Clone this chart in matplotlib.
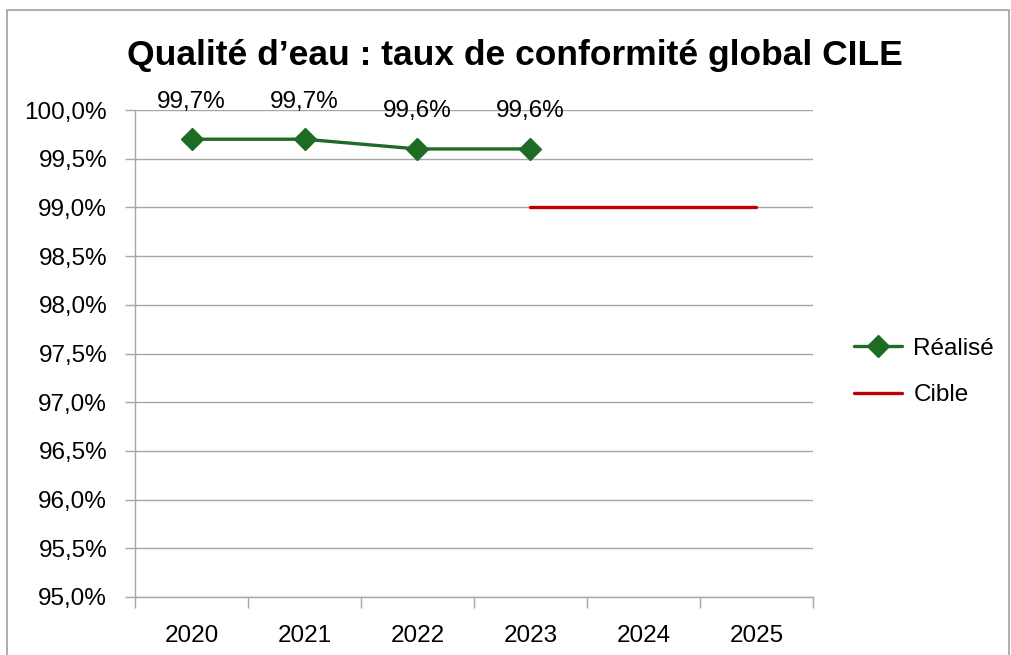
import matplotlib
matplotlib.use("Agg")
import matplotlib.pyplot as plt
from matplotlib.patches import Rectangle
from matplotlib.ticker import FuncFormatter, FixedLocator, NullFormatter

plt.rcParams["font.family"] = ["Liberation Sans", "DejaVu Sans"]

# --- data ---------------------------------------------------------------
years = ["2020", "2021", "2022", "2023", "2024", "2025"]
realise = [99.7, 99.7, 99.6, 99.6, None, None]
cible = [None, None, None, 99.0, 99.0, 99.0]
title = "Qualité d\u2019eau : taux de conformité global CILE"

GREEN = "#1E6B23"
RED = "#C00000"
GRID = "#A6A6A6"
FS = 17.5

W, H = 1011, 655
fig = plt.figure(figsize=(W / 100, H / 100), dpi=100)
ax = fig.add_axes([135 / W, 1 - 597 / H, (813 - 135) / W, (597 - 110) / H])

x = list(range(len(years)))
xr = [i for i, v in zip(x, realise) if v is not None]
yr = [v for v in realise if v is not None]
xc = [i for i, v in zip(x, cible) if v is not None]
yc = [v for v in cible if v is not None]

ax.plot(xr, yr, color=GREEN, lw=2.4, marker="D", ms=11, mec=GREEN,
        mfc=GREEN, label="Réalisé", zorder=3, solid_capstyle="round")
ax.plot(xc, yc, color=RED, lw=2.4, label="Cible", zorder=3,
        solid_capstyle="round")

for i, v in zip(xr, yr):
    ax.annotate(f"{v:.1f}%".replace(".", ","), (i, v), xytext=(0, 27),
                textcoords="offset points", ha="center", va="center",
                fontsize=FS, color="black", annotation_clip=False)

ax.set_xlim(-0.5, len(years) - 0.5)
ax.set_ylim(95, 100)
ax.set_yticks([95 + 0.5 * k for k in range(11)])
ax.yaxis.set_major_formatter(
    FuncFormatter(lambda v, p: f"{v:.1f}%".replace(".", ",")))
ax.grid(axis="y", color=GRID, lw=1)
ax.set_axisbelow(True)

# category boundaries get tick marks, labels sit at the centres
ax.xaxis.set_major_locator(FixedLocator([i - 0.5 for i in range(len(years) + 1)]))
ax.xaxis.set_major_formatter(NullFormatter())
ax.xaxis.set_minor_locator(FixedLocator(x))
ax.set_xticklabels(years, minor=True)
ax.tick_params(axis="x", which="minor", length=0, pad=20, labelsize=FS)
ax.tick_params(axis="x", which="major", length=8, color=GRID, width=1)
ax.tick_params(axis="y", length=7, color=GRID, width=1, labelsize=FS, pad=13)

for s in ["top", "right"]:
    ax.spines[s].set_visible(False)
for s in ["left", "bottom"]:
    ax.spines[s].set_color(GRID)
    ax.spines[s].set_linewidth(1)

leg = fig.legend(loc="center left", bbox_to_anchor=(832 / W, 1 - 372 / H),
                 frameon=False, fontsize=FS, handlelength=2.0,
                 handletextpad=0.45, labelspacing=1.0)

fig.text(515 / W, 1 - 55 / H, title, ha="center", va="center",
         fontsize=25.5, fontweight="bold")

fig.patches.append(Rectangle((7 / W, -0.05), (1009 - 7) / W, 1.05 - 10 / H,
                             transform=fig.transFigure, fill=False,
                             edgecolor="#A0A0A0", lw=1.2))

fig.savefig("out.png", dpi=100, facecolor="white")
